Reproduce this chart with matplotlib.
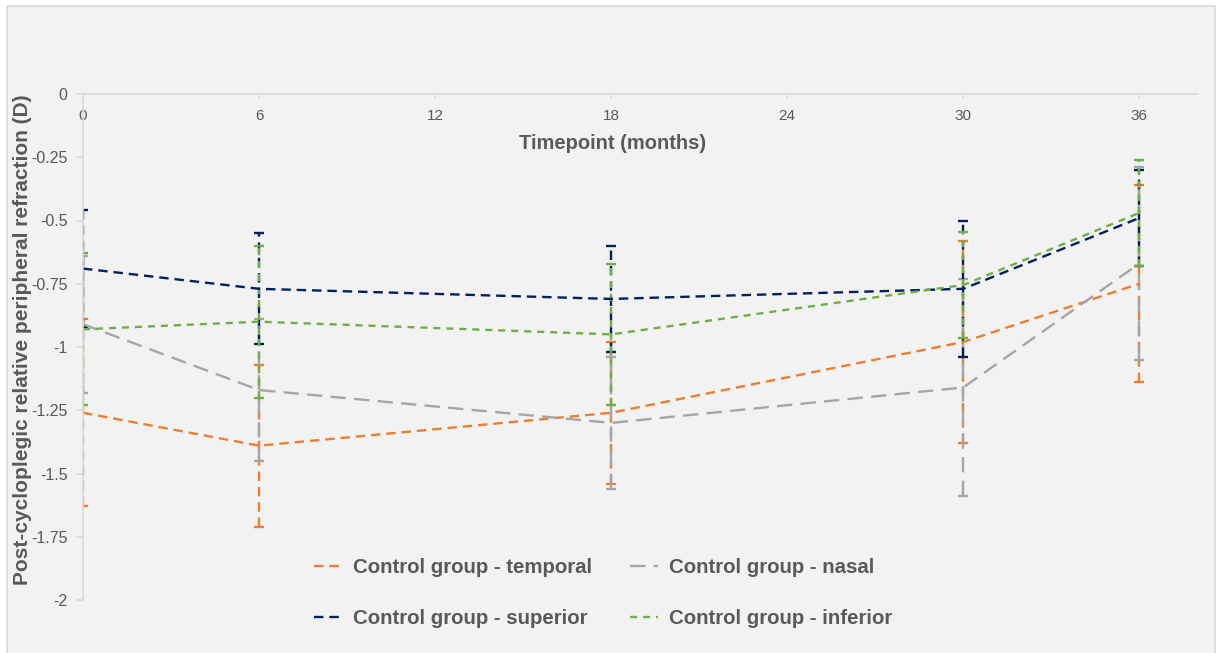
import matplotlib
matplotlib.use('Agg')

import matplotlib.pyplot as plt
from matplotlib.patches import Rectangle

plt.rcParams['font.family'] = ['Liberation Sans', 'DejaVu Sans']

# ------------ Data ---------------
timepoints = [0, 6, 18, 30, 36]

temporal = [-1.26, -1.39, -1.26, -0.98, -0.75]
temporal_err = [0.37, 0.32, 0.28, 0.40, 0.39]

nasal = [-0.91, -1.17, -1.30, -1.16, -0.67]
nasal_err = [0.27, 0.28, 0.26, 0.43, 0.38]

superior = [-0.69, -0.77, -0.81, -0.77, -0.49]
superior_err = [0.23, 0.22, 0.21, 0.27, 0.19]

inferior = [-0.93, -0.90, -0.95, -0.755, -0.47]
inferior_err = [0.30, 0.30, 0.28, 0.21, 0.21]

labels = ['Control group - temporal', 'Control group - nasal',
          'Control group - superior', 'Control group - inferior']

x_ticks = [0, 6, 12, 18, 24, 30, 36]
y_ticks = [0, -0.25, -0.5, -0.75, -1, -1.25, -1.5, -1.75, -2]
y_ticklabels = ['0', '-0.25', '-0.5', '-0.75', '-1', '-1.25', '-1.5', '-1.75', '-2']

# ------------ Style ---------------
BG = '#F2F2F2'
AXIS = '#D9D9D9'
TXT = '#595959'
W, H = 1219, 653

series = [
    (temporal, temporal_err, '#ED7D31', (4, 2.5)),
    (nasal, nasal_err, '#A5A5A5', (6.5, 3.5)),
    (superior, superior_err, '#002060', (4, 2.5)),
    (inferior, inferior_err, '#70AD47', (3, 2.5)),
]

fig = plt.figure(figsize=(W / 100, H / 100), dpi=100, facecolor='white')
# chart area box (white margin on top/left/right)
fig.patches.append(Rectangle((7 / W, -0.01), (1215 - 7) / W, 1 - 6 / H + 0.01,
                             transform=fig.transFigure, facecolor=BG,
                             edgecolor=AXIS, lw=1.2, zorder=-10))
ax = fig.add_axes([83 / W, 1 - 600 / H, (1198 - 83) / W, (600 - 94) / H])
ax.set_facecolor('none')

handles = []
for (vals, err, col, dash), lab in zip(series, labels):
    eb = ax.errorbar(timepoints, vals, yerr=err, color=col, lw=1.7,
                     capsize=3.5, capthick=1.7, elinewidth=1.7, label=lab)
    eb[0].set_dashes(dash)
    for ln in eb[2]:
        ln.set_linestyle((0, dash))
    h, = ax.plot([], [], color=col, lw=1.7, dashes=dash)
    handles.append(h)

ax.set_xlim(0, 38)
ax.set_ylim(-2, 0)
ax.set_xticks(x_ticks)
ax.set_yticks(y_ticks)
ax.set_yticklabels(y_ticklabels)

ax.spines['top'].set_visible(False)
ax.spines['right'].set_visible(False)
ax.spines['bottom'].set_position(('data', 0))
ax.spines['bottom'].set_color(AXIS)
ax.spines['left'].set_color(AXIS)
ax.spines['bottom'].set_linewidth(1.2)
ax.spines['left'].set_linewidth(1.2)

ax.tick_params(axis='x', length=3, color=AXIS, width=1.2, pad=8,
               labelsize=11, labelcolor=TXT)
ax.tick_params(axis='y', length=5, color=AXIS, width=1.2, pad=6,
               labelsize=11.5, labelcolor=TXT)

ax.set_xlabel('Timepoint (months)', fontsize=14.5, fontweight='bold', color=TXT,
              labelpad=8, x=(613 - 83) / (1198 - 83))
fig.text(23 / W, 1 - 340 / H, 'Post-cycloplegic relative peripheral refraction (D)',
         rotation=90, ha='center', va='center', fontsize=15, fontweight='bold', color=TXT)

# legend rows: temporal / nasal, superior / inferior (column-major fill)
order = [0, 2, 1, 3]
fig.legend([handles[i] for i in order], [labels[i] for i in order], ncol=2,
           loc='center', bbox_to_anchor=(603 / W, 1 - 593 / H),
           frameon=False, prop={'size': 14.7, 'weight': 'bold'}, labelcolor=TXT,
           handlelength=1.4, handletextpad=0.5, columnspacing=1.85, labelspacing=1.55)

fig.savefig('out.png', dpi=100, facecolor='white')
